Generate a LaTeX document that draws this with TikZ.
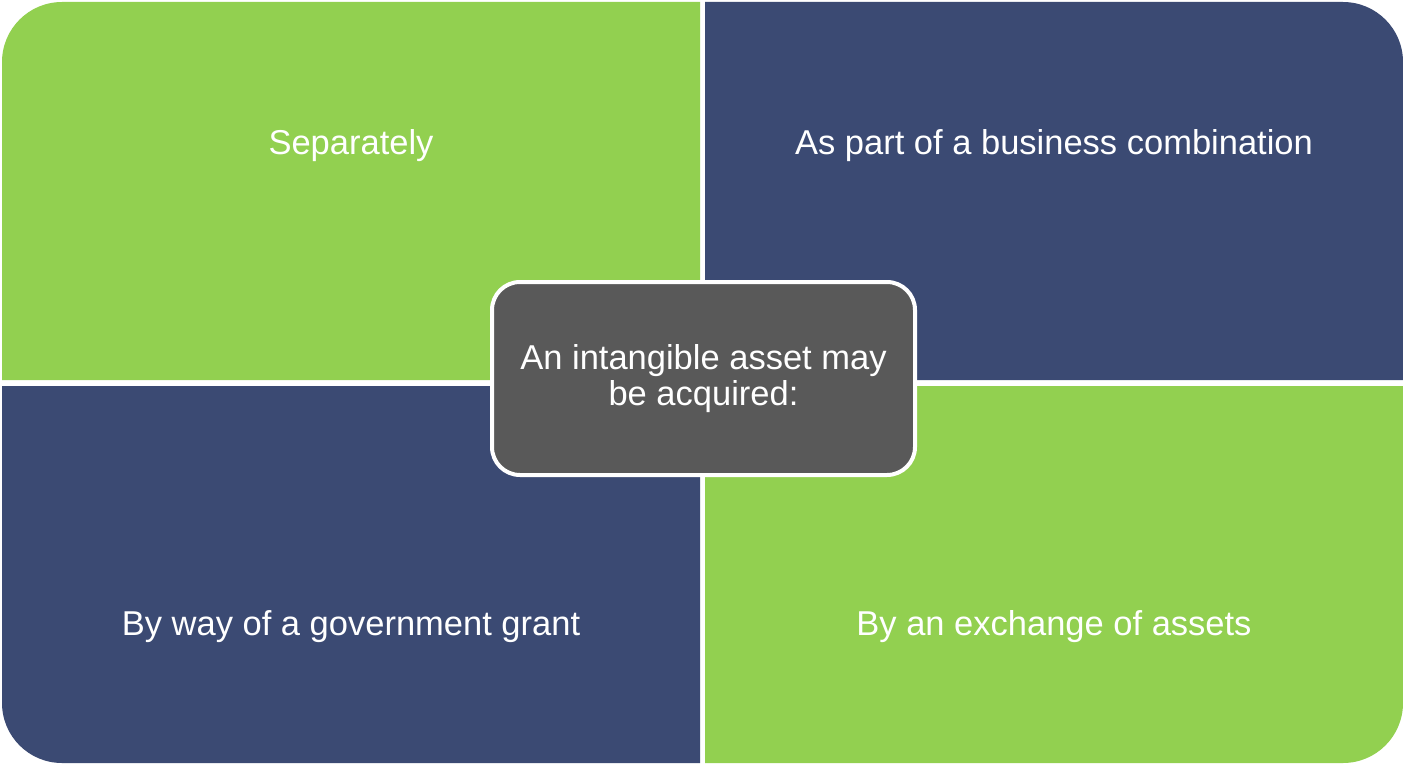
\documentclass[tikz,border=0pt]{standalone}
\usepackage{fontspec}
\setmainfont{Liberation Sans}
\usetikzlibrary{positioning}
\definecolor{quadgreen}{HTML}{92D050}
\definecolor{quadnavy}{HTML}{3B4A73}
\definecolor{centergray}{HTML}{595959}

\begin{document}
\begin{tikzpicture}[x=0.5pt,y=0.5pt,
    quadtext/.style={text=white,anchor=base,inner sep=0pt,font=\fontsize{17.25}{18}\selectfont},
    centerbox/.style={draw=white,line width=2pt,fill=centergray,rounded corners=14pt,
      minimum width=211.5pt,minimum height=96.5pt,inner sep=0pt,align=center,
      text=white,font=\fontsize{17.25}{18}\selectfont}]
  \useasboundingbox (0,0) rectangle (1403,-765);
  % quadrants, outer corner rounded
  \fill[quadgreen] (2,-380) -- (2,-62) arc[start angle=180,end angle=90,radius=60] -- (700,-2) -- (700,-380) -- cycle;
  \fill[quadnavy] (705,-2) -- (1343,-2) arc[start angle=90,end angle=0,radius=60] -- (1403,-380) -- (705,-380) -- cycle;
  \fill[quadnavy] (2,-386) -- (700,-386) -- (700,-763) -- (62,-763) arc[start angle=270,end angle=180,radius=60] -- cycle;
  \fill[quadgreen] (705,-386) -- (1403,-386) -- (1403,-703) arc[start angle=0,end angle=-90,radius=60] -- (705,-763) -- cycle;
  % labels
  \node[quadtext] (sep) at (351,-155) {Separately};
  \node[quadtext] (bus) at (1054,-155) {As part of a business combination};
  \node[quadtext] (grant) at (351,-635) {By way of a government grant};
  \node[quadtext] (exch) at (1054,-635) {By an exchange of assets};
  % centre
  \node[centerbox] (acq) at (703.5,-378.5) {\rule{0pt}{8pt}An intangible asset may\\be acquired:};
\end{tikzpicture}
\end{document}
